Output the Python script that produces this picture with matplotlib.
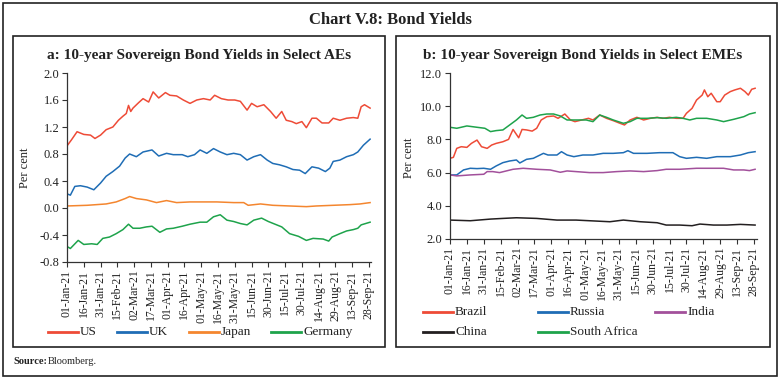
import matplotlib
matplotlib.use("Agg")
import matplotlib.pyplot as plt
from matplotlib.patches import Rectangle
from matplotlib.lines import Line2D

plt.rcParams['font.family'] = ['Liberation Serif', 'DejaVu Serif']

# ---------------- data (day offsets from 01-Jan-21, yield in per cent) -------------
tick_days = [0, 15, 30, 45, 60, 75, 90, 105, 120, 135, 150, 165, 180, 195, 210, 225, 240, 255, 270]
tick_labels = ["01-Jan-21", "16-Jan-21", "31-Jan-21", "15-Feb-21", "02-Mar-21", "17-Mar-21",
               "01-Apr-21", "16-Apr-21", "01-May-21", "16-May-21", "31-May-21", "15-Jun-21",
               "30-Jun-21", "15-Jul-21", "30-Jul-21", "14-Aug-21", "29-Aug-21", "13-Sep-21",
               "28-Sep-21"]

us_days = [0, 4, 9, 15, 21, 25, 30, 35, 41, 46, 50, 53, 55, 57, 59, 64, 68, 73, 77, 82, 88, 92,
           98, 104, 110, 116, 122, 128, 132, 138, 144, 150, 155, 161, 165, 170, 176, 182, 187,
           192, 196, 201, 205, 210, 214, 219, 223, 228, 234, 238, 244, 250, 256, 260, 263, 266, 271]
us_vals = [0.92, 1.01, 1.13, 1.09, 1.08, 1.03, 1.08, 1.16, 1.20, 1.30, 1.36, 1.40, 1.52, 1.43,
           1.48, 1.56, 1.62, 1.57, 1.72, 1.63, 1.71, 1.67, 1.66, 1.60, 1.55, 1.60, 1.62, 1.60,
           1.67, 1.62, 1.60, 1.60, 1.58, 1.45, 1.55, 1.50, 1.53, 1.43, 1.33, 1.43, 1.30, 1.28,
           1.25, 1.28, 1.19, 1.33, 1.33, 1.26, 1.26, 1.33, 1.30, 1.33, 1.34, 1.33, 1.50, 1.53, 1.48]

uk_days = [0, 3, 7, 12, 18, 24, 30, 35, 41, 47, 52, 56, 62, 68, 76, 82, 89, 95, 103, 108, 114,
           119, 125, 131, 137, 143, 149, 155, 161, 167, 173, 179, 184, 190, 196, 202, 208, 213,
           219, 225, 231, 235, 238, 244, 250, 256, 260, 265, 271]
uk_vals = [0.21, 0.19, 0.32, 0.33, 0.31, 0.27, 0.37, 0.47, 0.54, 0.62, 0.74, 0.80, 0.76, 0.83,
           0.86, 0.77, 0.81, 0.79, 0.79, 0.76, 0.79, 0.86, 0.81, 0.88, 0.83, 0.79, 0.81, 0.79,
           0.71, 0.76, 0.79, 0.71, 0.66, 0.64, 0.61, 0.57, 0.56, 0.51, 0.61, 0.59, 0.54, 0.59,
           0.69, 0.71, 0.76, 0.79, 0.83, 0.93, 1.02]

japan_days = [0, 18, 35, 44, 52, 56, 62, 71, 80, 89, 98, 110, 122, 134, 149, 158, 162, 173,
              184, 199, 214, 223, 238, 253, 262, 271]
japan_vals = [0.03, 0.04, 0.06, 0.09, 0.14, 0.17, 0.14, 0.12, 0.08, 0.11, 0.08, 0.09, 0.09,
              0.09, 0.08, 0.08, 0.04, 0.06, 0.04, 0.03, 0.02, 0.03, 0.04, 0.05, 0.06, 0.08]

germany_days = [0, 3, 10, 15, 22, 27, 32, 38, 44, 50, 55, 59, 65, 71, 76, 83, 89, 95, 103, 110,
                119, 125, 131, 137, 143, 149, 155, 161, 167, 174, 180, 186, 192, 199, 207, 214,
                220, 229, 234, 237, 244, 250, 256, 260, 263, 271]
germany_vals = [-0.57, -0.60, -0.48, -0.54, -0.53, -0.54, -0.45, -0.43, -0.38, -0.32, -0.24,
                -0.30, -0.30, -0.28, -0.27, -0.36, -0.31, -0.30, -0.27, -0.24, -0.21, -0.21,
                -0.13, -0.10, -0.18, -0.20, -0.23, -0.25, -0.18, -0.15, -0.20, -0.24, -0.28,
                -0.38, -0.42, -0.48, -0.45, -0.46, -0.49, -0.43, -0.38, -0.34, -0.32, -0.30,
                -0.25, -0.21]

brazil_days = [0, 3, 6, 10, 15, 19, 24, 28, 33, 37, 41, 47, 52, 56, 61, 64, 68, 73, 77, 81, 86,
               92, 96, 102, 107, 111, 117, 123, 127, 133, 139, 145, 151, 155, 160, 166, 172, 178,
               184, 189, 195, 201, 207, 210, 215, 219, 224, 226, 229, 232, 237, 240, 244, 249,
               253, 258, 262, 265, 268, 271]
brazil_vals = [6.86, 6.92, 7.46, 7.56, 7.52, 7.76, 7.96, 7.56, 7.46, 7.66, 7.76, 7.86, 8.00,
               8.60, 8.10, 8.60, 8.57, 8.50, 8.67, 9.17, 9.37, 9.41, 9.27, 9.53, 9.17, 9.07,
               9.17, 9.27, 9.17, 9.47, 9.27, 9.13, 8.97, 8.87, 9.17, 9.33, 9.17, 9.27, 9.33,
               9.27, 9.33, 9.27, 9.27, 9.57, 9.87, 10.37, 10.67, 10.98, 10.57, 10.78, 10.27,
               10.27, 10.67, 10.88, 10.98, 11.08, 10.88, 10.67, 11.02, 11.08]

russia_days = [0, 6, 12, 18, 24, 30, 36, 41, 47, 53, 59, 62, 68, 74, 80, 83, 87, 95, 99, 104,
               110, 118, 127, 136, 145, 154, 158, 163, 175, 186, 198, 204, 210, 219, 228, 237,
               249, 258, 265, 271]
russia_vals = [5.86, 5.86, 6.16, 6.26, 6.24, 6.26, 6.20, 6.40, 6.60, 6.70, 6.76, 6.58, 6.80,
               6.86, 7.06, 7.16, 7.06, 7.06, 7.26, 7.06, 6.96, 7.06, 7.06, 7.16, 7.16, 7.20,
               7.32, 7.16, 7.16, 7.20, 7.20, 6.96, 6.86, 6.92, 6.86, 6.96, 6.96, 7.06, 7.20, 7.26]

india_days = [0, 6, 18, 30, 33, 38, 44, 50, 56, 65, 77, 89, 98, 104, 112, 124, 136, 148, 160,
              172, 184, 192, 204, 219, 234, 243, 252, 261, 266, 271]
india_vals = [5.86, 5.80, 5.86, 5.90, 6.06, 6.06, 6.00, 6.10, 6.20, 6.26, 6.20, 6.16, 6.02,
              6.10, 6.06, 6.00, 6.00, 6.06, 6.10, 6.06, 6.12, 6.20, 6.20, 6.26, 6.26, 6.26,
              6.16, 6.16, 6.12, 6.20]

china_days = [0, 18, 36, 47, 59, 77, 95, 112, 130, 142, 154, 169, 184, 192, 204, 215, 222, 234,
              246, 258, 271]
china_vals = [3.14, 3.10, 3.20, 3.24, 3.28, 3.24, 3.14, 3.14, 3.08, 3.04, 3.14, 3.04, 2.98,
              2.84, 2.84, 2.80, 2.90, 2.84, 2.84, 2.88, 2.84]

safrica_days = [0, 6, 15, 24, 31, 36, 41, 47, 53, 59, 64, 68, 74, 80, 86, 92, 98, 104, 112, 121,
                127, 133, 139, 145, 154, 160, 166, 175, 184, 192, 201, 207, 213, 219, 228, 237,
                243, 252, 261, 266, 271]
safrica_vals = [8.73, 8.67, 8.81, 8.73, 8.67, 8.47, 8.53, 8.57, 8.87, 9.17, 9.47, 9.27, 9.33,
                9.47, 9.53, 9.53, 9.41, 9.17, 9.17, 9.17, 9.07, 9.47, 9.33, 9.17, 8.97, 9.07,
                9.27, 9.27, 9.31, 9.27, 9.33, 9.27, 9.17, 9.27, 9.27, 9.17, 9.07, 9.21, 9.37,
                9.53, 9.61]

left_names = ["US", "UK", "Japan", "Germany"]
right_names = ["Brazil", "Russia", "India", "China", "South Africa"]

RED, BLUE, ORANGE, GREEN = "#EE4B37", "#1F6DB5", "#F4862F", "#1EA34B"
PURPLE, BLACK = "#A2509B", "#231F20"

W, H = 780, 380
fig = plt.figure(figsize=(W / 100, H / 100), dpi=100)


def fx(px):
    return px / W


def fy(py):
    return 1 - py / H


def frame(x0, y0, x1, y1, lw=1.2):
    fig.add_artist(Rectangle((fx(x0), fy(y1)), fx(x1) - fx(x0), fy(y0) - fy(y1),
                             transform=fig.transFigure, fill=False, edgecolor="#222222",
                             linewidth=lw))


frame(2.5, 2.5, 777, 376)
frame(13, 36, 385, 347)
frame(396, 36, 770, 347)

fig.text(0.5, fy(20), "Chart V.8: Bond Yields", ha="center", va="center",
         fontsize=12, fontweight="bold", color="#222222")
fig.text(fx(199), fy(55), "a: 10-year Sovereign Bond Yields in Select AEs", ha="center",
         va="center", fontsize=11, fontweight="bold", color="#222222")
fig.text(fx(583), fy(55), "b: 10-year Sovereign Bond Yields in Select EMEs", ha="center",
         va="center", fontsize=11, fontweight="bold", color="#222222")
fig.text(fx(13), fy(362), "Source:", ha="left", va="center", fontsize=7.5,
         fontweight="bold", color="#222222")
fig.text(fx(48), fy(362), "Bloomberg.", ha="left", va="center", fontsize=7.5, color="#222222")


def style(ax, xlim_right):
    for s in ["top", "right"]:
        ax.spines[s].set_visible(False)
    for s in ["left", "bottom"]:
        ax.spines[s].set_color("#333333")
        ax.spines[s].set_linewidth(0.9)
    ax.set_xlim(0, xlim_right)
    ax.set_xticks(tick_days)
    ax.set_xticklabels(tick_labels, rotation=90, fontsize=8.5)
    ax.tick_params(axis="both", direction="out", length=3.5, width=0.8, color="#333333",
                   labelcolor="#222222", pad=2)
    ax.tick_params(axis="y", labelsize=9)
    ax.set_ylabel("Per cent", fontsize=9, color="#222222")


# ---------------- left panel ----------------
axl = fig.add_axes([fx(67), fy(262), fx(371) - fx(67), fy(73) - fy(262)])
axl.plot(us_days, us_vals, color=RED, lw=1.1)
axl.plot(uk_days, uk_vals, color=BLUE, lw=1.1)
axl.plot(japan_days, japan_vals, color=ORANGE, lw=1.1)
axl.plot(germany_days, germany_vals, color=GREEN, lw=1.1)
axl.set_ylim(-0.8, 2.0)
axl.set_yticks([-0.8, -0.4, 0.0, 0.4, 0.8, 1.2, 1.6, 2.0])
axl.set_yticklabels(["-0.8", "-0.4", "0.0", "0.4", "0.8", "1.2", "1.6", "2.0"])
style(axl, 271.8)
axl.yaxis.set_label_coords(-0.12, 0.5)

# ---------------- right panel ----------------
axr = fig.add_axes([fx(450), fy(239), fx(757) - fx(450), fy(73) - fy(239)])
axr.plot(brazil_days, brazil_vals, color=RED, lw=1.1)
axr.plot(russia_days, russia_vals, color=BLUE, lw=1.1)
axr.plot(india_days, india_vals, color=PURPLE, lw=1.1)
axr.plot(china_days, china_vals, color=BLACK, lw=1.1)
axr.plot(safrica_days, safrica_vals, color=GREEN, lw=1.1)
axr.set_ylim(2.0, 12.0)
axr.set_yticks([2, 4, 6, 8, 10, 12])
axr.set_yticklabels(["2.0", "4.0", "6.0", "8.0", "10.0", "12.0"])
style(axr, 272.7)
axr.yaxis.set_label_coords(-0.115, 0.49)


# ---------------- legends (manual placement) ----------------
def legend_item(x, y, color, label):
    fig.add_artist(Line2D([fx(x), fx(x + 30)], [fy(y), fy(y)], color=color, lw=2.0,
                          transform=fig.transFigure))
    fig.text(fx(x + 32), fy(y), label, ha="left", va="center", fontsize=9.5, color="#222222")


left_colors = [RED, BLUE, ORANGE, GREEN]
left_x = [48, 117, 189, 271]
for name, c, x in zip(left_names, left_colors, left_x):
    legend_item(x, 332, c, name)

right_colors = [RED, BLUE, PURPLE, BLACK, GREEN]
right_pos = [(423, 312), (538, 312), (655, 312), (423, 332), (538, 332)]
for name, c, (x, y) in zip(right_names, right_colors, right_pos):
    legend_item(x, y, c, name)

fig.savefig("out.png", dpi=100)
